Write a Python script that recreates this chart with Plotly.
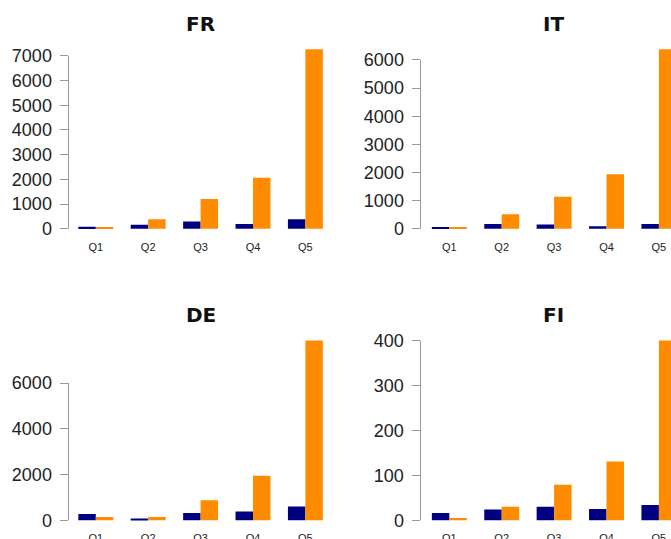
import plotly.graph_objects as go

# ---- data ----
categories = ["Q1", "Q2", "Q3", "Q4", "Q5"]
panel_names = ["FR", "IT", "DE", "FI"]

fr_navy = [80, 160, 295, 190, 390]
fr_orange = [60, 390, 1210, 2070, 7270]
it_navy = [45, 175, 150, 95, 175]
it_orange = [45, 520, 1135, 1940, 6383]
de_navy = [277, 50, 320, 378, 597]
de_orange = [146, 146, 873, 1950, 7860]
fi_navy = [16, 24, 30, 25, 34]
fi_orange = [5, 30, 79, 131, 400]

fr_ticks = [0, 1000, 2000, 3000, 4000, 5000, 6000, 7000]
it_ticks = [0, 1000, 2000, 3000, 4000, 5000, 6000]
de_ticks = [0, 2000, 4000, 6000]
fi_ticks = [0, 100, 200, 300, 400]

NAVY = "#000080"
ORANGE = "#FF8C00"
AXIS_GRAY = "#999999"
TEXT = "#222222"

W, H = 671, 539

panels = [
    ("FR", fr_navy, fr_orange, fr_ticks),
    ("IT", it_navy, it_orange, it_ticks),
    ("DE", de_navy, de_orange, de_ticks),
    ("FI", fi_navy, fi_orange, fi_ticks),
]

# layout geometry (pixels)
left_x = (68.5, 332.7)
right_x = (420.5, 671.0)
left_xrange = [-0.521, 4.521]
right_xrange = [-0.550, 4.231]
top_y = (42.0, 236.0)
bot_y = (333.4, 527.4)
title_cx = [200.6, 553.5, 200.6, 553.5]
title_cy = [23.7, 23.7, 315.1, 315.1]

fig = go.Figure()
layout = dict(
    template="none",
    width=W, height=H,
    margin=dict(l=0, r=0, t=0, b=0, autoexpand=False),
    paper_bgcolor="white", plot_bgcolor="white",
    showlegend=False,
    barmode="group", bargap=1/3, bargroupgap=0,
    font=dict(family="Liberation Sans, Arial, sans-serif", color=TEXT),
)
shapes = []
annotations = []

for i, (name, navy, orange, ticks) in enumerate(panels):
    k = "" if i == 0 else str(i + 1)
    xa, ya = "x" + k, "y" + k
    col = i % 2
    row = i // 2
    xpx = left_x if col == 0 else right_x
    ypx = top_y if row == 0 else bot_y
    xr = left_xrange if col == 0 else right_xrange
    vmax = max(max(navy), max(orange))

    fig.add_trace(go.Bar(x=categories, y=navy, marker=dict(color=NAVY, line=dict(width=0)),
                         xaxis=xa, yaxis=ya, name="A", showlegend=False))
    fig.add_trace(go.Bar(x=categories, y=orange, marker=dict(color=ORANGE, line=dict(width=0)),
                         xaxis=xa, yaxis=ya, name="B", showlegend=False))

    layout["xaxis" + k] = dict(
        domain=[xpx[0] / W, xpx[1] / W], anchor=ya, range=xr, automargin=False,
        type="category", showline=False, showgrid=False, zeroline=False,
        ticks="", tickfont=dict(size=11, color=TEXT), ticklabelstandoff=3,
    )
    layout["yaxis" + k] = dict(
        domain=[1 - ypx[1] / H, 1 - ypx[0] / H], anchor=xa, automargin=False,
        range=[-0.04 * vmax, 1.04 * vmax],
        showline=False, showgrid=False, zeroline=False,
        tickmode="array", tickvals=ticks, ticktext=[str(t) for t in ticks],
        ticks="outside", ticklen=8, tickcolor=AXIS_GRAY, tickwidth=1,
        tickfont=dict(size=18, color=TEXT), ticklabelstandoff=4,
    )
    shapes.append(dict(type="line", xref=xa + " domain", yref=ya,
                       x0=0, x1=0, y0=ticks[0], y1=ticks[-1],
                       line=dict(color=AXIS_GRAY, width=1)))
    annotations.append(dict(text="<b>%s</b>" % name, xref="paper", yref="paper",
                            x=title_cx[i] / W, y=1 - title_cy[i] / H,
                            xanchor="center", yanchor="middle", showarrow=False,
                            font=dict(size=20, family="DejaVu Sans, sans-serif", color="#111111")))

layout["shapes"] = shapes
layout["annotations"] = annotations
fig.update_layout(**layout)
fig.write_html("out.html")
